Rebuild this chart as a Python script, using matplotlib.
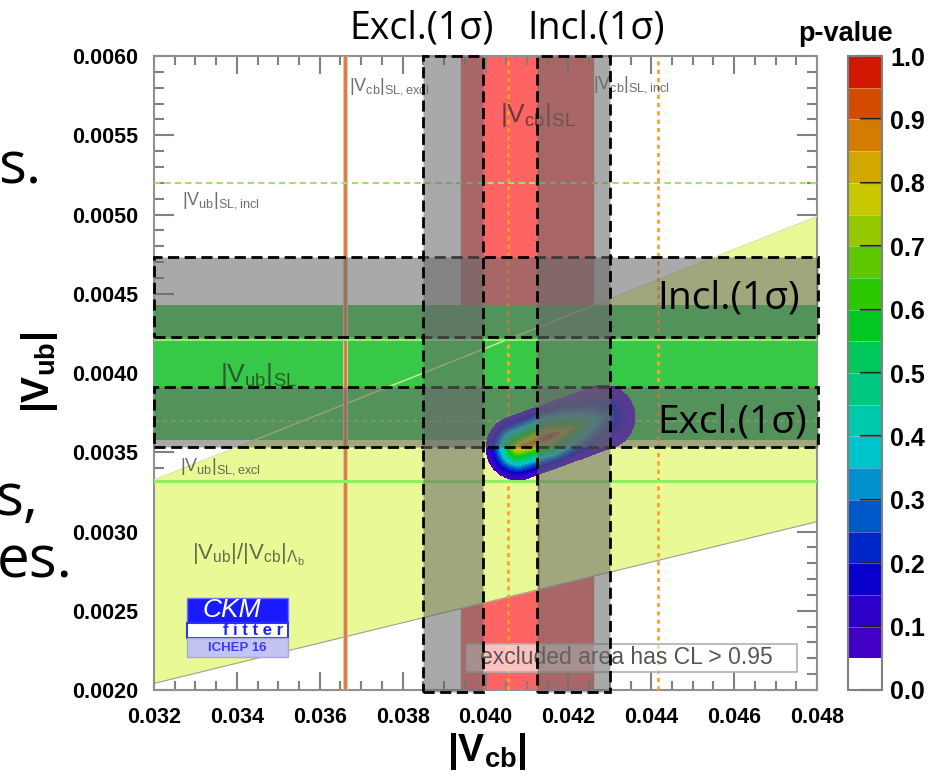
import numpy as np
import matplotlib.pyplot as plt
from matplotlib.colors import ListedColormap, BoundaryNorm
from matplotlib.cm import ScalarMappable
from matplotlib.patches import Rectangle
from matplotlib.ticker import MultipleLocator

plt.rcParams['font.family'] = ['Liberation Sans', 'DejaVu Sans']
plt.rcParams['mathtext.fontset'] = 'custom'
plt.rcParams['mathtext.rm'] = 'Liberation Sans'
plt.rcParams['mathtext.it'] = 'Liberation Sans:italic'
plt.rcParams['mathtext.bf'] = 'Liberation Sans:bold'
SLIDE_FONT = ['Open Sans', 'DejaVu Sans']

# osie
x_lim = [0.032, 0.048]
y_lim = [0.0020, 0.0060]
x_ticks = [0.032, 0.034, 0.036, 0.038, 0.040, 0.042, 0.044, 0.046, 0.048]
x_labels = ['0.032', '0.034', '0.036', '0.038', '0.040', '0.042', '0.044', '0.046', '0.048']
y_ticks = [0.0020, 0.0025, 0.0030, 0.0035, 0.0040, 0.0045, 0.0050, 0.0055, 0.0060]
y_labels = ['0.0020', '0.0025', '0.0030', '0.0035', '0.0040', '0.0045', '0.0050', '0.0055', '0.0060']

# |Vcb| SL
vcb_sl_band = [0.0394, 0.0426]
vcb_sl_dotted = 0.04055
vcb_sl_inner = 0.0413
vcb_excl = 0.0366
vcb_incl = 0.04417

# |Vub| SL
vub_sl_band = [0.00358, 0.00443]
vub_sl_inner = 0.00421
vub_sl_dashed = 0.0037
vub_incl = 0.0052
vub_excl = 0.00332

# |Vub|/|Vcb| Lambda_b (nachylenia)
ratio_slopes = [0.0638, 0.1039]

# obszar dopasowania (kapsula)
blob_ends_x = [0.04078, 0.04284]
blob_ends_y = [0.003527, 0.003722]
blob_radius = [0.00077, 0.000202]
blob_t = [0.0, 0.38, 1.0]
blob_p = [0.84, 0.97, 0.30]

# prostokaty ze slajdu
vbox_excl = [0.03849, 0.03994]
vbox_incl = [0.04124, 0.04300]
hbox_incl = [0.00423, 0.00473]
hbox_excl = [0.00353, 0.00391]

# paleta p-value
pv_bounds = [0.0, 0.05, 0.10, 0.15, 0.20, 0.25, 0.30, 0.35, 0.40, 0.45, 0.50,
             0.55, 0.60, 0.65, 0.70, 0.75, 0.80, 0.85, 0.90, 0.95, 1.0]
pv_colors = ['#ffffff', '#4200c4', '#2c00c8', '#0a00cc', '#0028c8', '#0058c8',
             '#0090cc', '#00c4cc', '#00c8aa', '#00c880', '#00c85a', '#00c820',
             '#2cc800', '#5ec800', '#96c800', '#c8c800', '#d2a800', '#d27c00',
             '#d24c00', '#d01800']
cbar_ticks = [0.0, 0.1, 0.2, 0.3, 0.4, 0.5, 0.6, 0.7, 0.8, 0.9, 1.0]
cbar_labels = ['0.0', '0.1', '0.2', '0.3', '0.4', '0.5', '0.6', '0.7', '0.8', '0.9', '1.0']

fig = plt.figure(figsize=(9.44, 7.79), dpi=100)
ax = fig.add_axes([0.16314, 0.11425, 0.70233, 0.81386])
cax = fig.add_axes([0.8983, 0.11425, 0.0360, 0.81386])

# pasma
ax.axvspan(*vcb_sl_band, color='#ff6464', lw=0, zorder=1)
for v in vcb_sl_band:
    ax.axvline(v, color='#c87878', lw=1, zorder=1.5)

xs = np.array(x_lim)
ax.fill_between(xs, ratio_slopes[0] * xs, ratio_slopes[1] * xs,
                color='#e9f995', lw=0, zorder=2)
ax.plot(xs, ratio_slopes[0] * xs, color='#a0a0a0', lw=0.8, zorder=2.1)

ax.axhspan(*vub_sl_band, color='#38c848', lw=0, zorder=3)
ax.plot(xs, ratio_slopes[1] * xs, color='#d8e8a0', lw=1, zorder=3.5)

# linie
ax.axvline(vcb_excl, color='#c8c8c8', lw=3.5, zorder=3.6)
ax.axvline(vcb_excl, color='#f07010', lw=1.8, zorder=3.7)
ax.axvline(vcb_incl, color='#ffa030', lw=2, ls=(0, (1.5, 1.5)), zorder=3.7)
ax.axvline(vcb_sl_dotted, color='#ffa030', lw=2, ls=(0, (1.5, 1.5)), zorder=3.7)
ax.axvline(vcb_sl_inner, color='#d07830', lw=1.2, alpha=0.8, zorder=3.7)
ax.axhline(vub_incl, color='#a0e070', lw=1.5, ls=(0, (3, 2)), zorder=3.7)
ax.axhline(vub_excl, color='#90ee60', lw=2.2, zorder=3.7)
ax.axhline(vub_sl_inner, color='#98e878', lw=1.5, zorder=3.7)
ax.axhline(vub_sl_dashed, color='#a8d080', lw=1.2, ls=(0, (3, 2)), zorder=3.7)

# mapa p-value
gx = np.linspace(0.0395, 0.0445, 400)
gy = np.linspace(0.0030, 0.0042, 400)
X, Y = np.meshgrid(gx, gy)
u, v = X / blob_radius[0], Y / blob_radius[1]
u0, v0 = blob_ends_x[0] / blob_radius[0], blob_ends_y[0] / blob_radius[1]
du = blob_ends_x[1] / blob_radius[0] - u0
dv = blob_ends_y[1] / blob_radius[1] - v0
t = np.clip(((u - u0) * du + (v - v0) * dv) / (du * du + dv * dv), 0, 1)
s = np.hypot(u - (u0 + t * du), v - (v0 + t * dv))
g = np.interp(t, blob_t, blob_p)
P = np.where(s < 1, 0.05 + (g - 0.05) * np.clip(1 - s, 0, 1) ** 1.25, 0.0)
ax.contourf(X, Y, P, levels=pv_bounds[1:], colors=pv_colors[1:], zorder=4)

# etykiety
lab = dict(color='#202020', alpha=0.65, va='center', ha='left', zorder=5)
ax.text(0.0367, 0.00581, r'$|\mathrm{V}_{\mathrm{cb}}|_{\mathrm{SL,excl}}$', fontsize=13, **lab)
ax.text(0.04259, 0.00582, r'$|\mathrm{V}_{\mathrm{cb}}|_{\mathrm{SL,incl}}$', fontsize=13, **lab)
ax.text(0.04035, 0.00563, r'$|\mathrm{V}_{\mathrm{cb}}|_{\mathrm{SL}}$', fontsize=19, **lab)
ax.text(0.03359, 0.00399, r'$|\mathrm{V}_{\mathrm{ub}}|_{\mathrm{SL}}$', fontsize=19, **lab)
ax.text(0.03268, 0.00509, r'$|\mathrm{V}_{\mathrm{ub}}|_{\mathrm{SL,incl}}$', fontsize=13, **lab)
ax.text(0.03263, 0.00341, r'$|\mathrm{V}_{\mathrm{ub}}|_{\mathrm{SL,excl}}$', fontsize=13, **lab)
ax.text(0.03292, 0.00285, r'$|\mathrm{V}_{\mathrm{ub}}|/|\mathrm{V}_{\mathrm{cb}}|_{\Lambda_{\mathrm{b}}}$',
        fontsize=16, **lab)

# legenda
ax.add_patch(Rectangle((0.4706, 0.0284), 0.4992, 0.0442, transform=ax.transAxes,
                       fc=(1, 1, 1, 0.6), ec='#b0b0b0', lw=1.2, zorder=6))
ax.text(0.4917, 0.0505, 'excluded area has CL > 0.95', transform=ax.transAxes,
        color='#555555', fontsize=16.5, va='center', ha='left', zorder=6)

# logo CKMfitter
ax.add_patch(Rectangle((0.0498, 0.1057), 0.1523, 0.0394, transform=ax.transAxes,
                       fc='#1a1aff', ec='#7070ff', lw=1, zorder=6))
ax.add_patch(Rectangle((0.0498, 0.0820), 0.1523, 0.0237, transform=ax.transAxes,
                       fc='white', ec='#3030ff', lw=1.5, zorder=6))
ax.add_patch(Rectangle((0.0498, 0.0520), 0.1523, 0.0300, transform=ax.transAxes,
                       fc='#c4c4f0', ec='#a8a8e0', lw=1, zorder=6))
ax.text(0.118, 0.1265, 'CKM', transform=ax.transAxes, color='white', style='italic',
        fontsize=19, ha='center', va='center', zorder=7)
ax.text(0.194, 0.0945, 'f i t t e r', transform=ax.transAxes, color='#2020ff',
        fontweight='bold', fontsize=12, ha='right', va='center', zorder=7)
ax.text(0.125, 0.0668, 'ICHEP 16', transform=ax.transAxes, color='#3a3aff',
        fontweight='bold', fontsize=9.5, ha='center', va='center', zorder=7)

# prostokaty ze slajdu
box = dict(fc=(0.41, 0.41, 0.41, 0.57), ec='black', lw=2, ls=(0, (4, 2)), clip_on=False)
for y0, y1 in [hbox_incl, hbox_excl]:
    ax.add_patch(Rectangle((x_lim[0], y0), 0.01602, y1 - y0, zorder=10, **box))
for x0, x1 in [vbox_excl, vbox_incl]:
    ax.add_patch(Rectangle((x0, 0.001987), x1 - x0, 0.006 - 0.001987, zorder=11, **box))

ax.set_xlim(x_lim)
ax.set_ylim(y_lim)
ax.set_xticks(x_ticks, x_labels)
ax.set_yticks(y_ticks, y_labels)
ax.xaxis.set_minor_locator(MultipleLocator(0.0005))
ax.yaxis.set_minor_locator(MultipleLocator(0.0001))
ax.tick_params(which='both', direction='in', top=True, right=True, color='#808080', width=1.5)
ax.tick_params(axis='x', which='major', length=13, pad=12, labelsize=15.5)
ax.tick_params(axis='x', which='minor', length=6.5)
ax.tick_params(axis='y', which='major', length=14.5, pad=11.5, labelsize=15.5)
ax.tick_params(axis='y', which='minor', length=7)
for lbl in ax.get_xticklabels() + ax.get_yticklabels():
    lbl.set_fontweight('bold')
for sp in ax.spines.values():
    sp.set_color('#909090')
    sp.set_linewidth(1.5)

# pasek kolorow
cmap = ListedColormap(pv_colors)
norm = BoundaryNorm(pv_bounds, cmap.N)
cb = fig.colorbar(ScalarMappable(norm=norm, cmap=cmap), cax=cax, ticks=cbar_ticks)
cb.ax.set_yticklabels(cbar_labels)
cb.outline.set_edgecolor('#808080')
cb.outline.set_linewidth(1.5)
for b in pv_bounds[1:-1]:
    cax.axhline(b, color='white', lw=0.6, alpha=0.35)
cax.tick_params(direction='in', length=16, width=1.5, color='#202020', pad=6, labelsize=18)
cax.minorticks_off()
for lbl in cax.get_yticklabels():
    lbl.set_fontweight('bold')
fig.text(846 / 944, 1 - 34 / 779, 'p-value', ha='center', va='center',
         fontweight='bold', fontsize=19.5)

# tytuly osi
fig.text(40 / 944, 1 - 372 / 779, r'$\mathbf{|V}_{\mathbf{ub}}\mathbf{|}$', rotation=90,
         ha='center', va='center', fontsize=28)
fig.text(487 / 944, 1 - 752 / 779, r'$\mathbf{|V}_{\mathbf{cb}}\mathbf{|}$',
         ha='center', va='center', fontsize=28)

# teksty ze slajdu
fig.text(422 / 944, 1 - 38 / 779, 'Excl.(1σ)', family=SLIDE_FONT, fontsize=27,
         ha='center', va='baseline')
fig.text(596 / 944, 1 - 38 / 779, 'Incl.(1σ)', family=SLIDE_FONT, fontsize=27,
         ha='center', va='baseline')
fig.text(657 / 944, 1 - 308 / 779, 'Incl.(1σ)', family=SLIDE_FONT, fontsize=28,
         ha='left', va='baseline', zorder=20)
fig.text(657 / 944, 1 - 433 / 779, 'Excl.(1σ)', family=SLIDE_FONT, fontsize=28,
         ha='left', va='baseline', zorder=20)
fig.text(41 / 944, 1 - 183 / 779, 's.', family=SLIDE_FONT, fontsize=42,
         ha='right', va='baseline')
fig.text(38 / 944, 1 - 515 / 779, 's,', family=SLIDE_FONT, fontsize=42,
         ha='right', va='baseline')
fig.text(73 / 944, 1 - 577 / 779, 'es.', family=SLIDE_FONT, fontsize=42,
         ha='right', va='baseline')

fig.savefig('out.png', dpi=100)
